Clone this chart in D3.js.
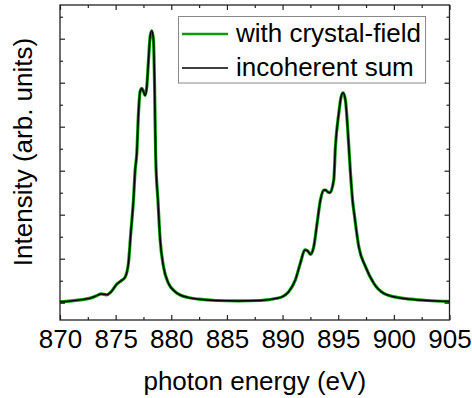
<!DOCTYPE html>
<html>
<head>
<meta charset="utf-8">
<script src="https://cdn.jsdelivr.net/npm/d3@7"></script>
<style>
  body { margin: 0; background: #fff; }
  text { font-family: "Liberation Sans", Arial, sans-serif; fill: #000; }
</style>
</head>
<body>
<div id="display"></div>
<script>
// photon energy (eV)
const energy = [870, 871, 872, 872.8, 873.3, 873.7, 874.2, 874.6, 875.1, 875.5, 875.85, 876.15, 876.36, 876.6, 876.75, 876.9,
    877.05, 877.2, 877.35, 877.5, 877.65, 877.8, 877.95, 878.1, 878.25, 878.4, 878.5, 878.6, 878.8, 879.0, 879.3, 879.75,
    880.35, 880.8, 881.5, 882.5, 884, 886, 888, 888.8, 889.5, 890.0, 890.55, 891.15, 891.6, 892.0, 892.25, 892.5, 892.8,
    893.1, 893.4, 893.7, 893.85, 894.05, 894.25, 894.6, 894.75, 895.05, 895.26, 895.44, 895.65, 895.86, 896.1, 896.3,
    896.45, 896.85, 897.45, 898.2, 899.1, 900.3, 901.5, 903, 905]

// intensity (arb. units), with crystal-field
const withCF = [0.02, 0.04, 0.07, 0.11, 0.16, 0.2, 0.18, 0.25, 0.42, 0.5, 0.58, 0.9, 1.58, 2.33, 3.0, 3.4,
    4.3, 4.8, 4.87, 4.8, 4.71, 4.91, 5.5, 6.05, 6.18, 5.97, 4.91, 3.3, 2.33, 1.43, 0.82, 0.44,
    0.25, 0.175, 0.12, 0.08, 0.05, 0.04, 0.05, 0.07, 0.1, 0.14, 0.25, 0.52, 0.9, 1.2, 1.18, 1.1, 1.27,
    1.8, 2.33, 2.56, 2.56, 2.52, 2.5, 2.79, 3.55, 4.3, 4.68, 4.77, 4.6, 3.92, 2.95, 2.3,
    2.0, 1.27, 0.82, 0.44, 0.21, 0.12, 0.08, 0.05, 0.03]

// intensity (arb. units), incoherent sum
const incoherent = [0.02, 0.04, 0.07, 0.11, 0.16, 0.2, 0.18, 0.25, 0.42, 0.5, 0.58, 0.9, 1.58, 2.33, 3.0, 3.4,
    4.3, 4.8, 4.87, 4.8, 4.71, 4.91, 5.5, 6.05, 6.18, 5.97, 4.91, 3.3, 2.33, 1.43, 0.82, 0.44,
    0.25, 0.175, 0.12, 0.08, 0.05, 0.04, 0.05, 0.07, 0.1, 0.14, 0.25, 0.52, 0.9, 1.2, 1.18, 1.1, 1.27,
    1.8, 2.33, 2.56, 2.56, 2.52, 2.5, 2.79, 3.55, 4.3, 4.68, 4.77, 4.6, 3.92, 2.95, 2.3,
    2.0, 1.27, 0.82, 0.44, 0.21, 0.12, 0.08, 0.05, 0.03]

const xTicks = [870, 875, 880, 885, 890, 895, 900, 905]
const xMinor = [872.5, 877.5, 882.5, 887.5, 892.5, 897.5, 902.5]
const yTicks = [0, 1, 2, 3, 4, 5, 6]
const yMinor = [-0.5, 0.5, 1.5, 2.5, 3.5, 4.5, 5.5, 6.5]
const legendLabels = ["with crystal-field", "incoherent sum"]
const legendColors = ["#0a9a0a", "#000"]

const width = 472, height = 398
const margin = {top: 5, right: 22.5, bottom: 78, left: 60}

const svg = d3.select('#display').append('svg')
    .attr('width', width)
    .attr('height', height)

const xScale = d3.scaleLinear()
    .domain([870, 905])
    .range([margin.left, width - margin.right])
const yScale = d3.scaleLinear()
    .domain([-0.393, 6.766])
    .range([height - margin.bottom, margin.top])

const x0 = margin.left, x1 = width - margin.right
const y0 = height - margin.bottom, y1 = margin.top

// curves
const line = d3.line()
    .x(d => xScale(d[0]))
    .y(d => yScale(d[1]))
    .curve(d3.curveMonotoneX)

svg.append('path')
    .datum(energy.map((e, i) => [e, withCF[i]]))
    .attr('d', line)
    .attr('fill', 'none')
    .attr('stroke', legendColors[0])
    .attr('stroke-width', 3.2)

svg.append('path')
    .datum(energy.map((e, i) => [e, incoherent[i]]))
    .attr('d', line)
    .attr('fill', 'none')
    .attr('stroke', legendColors[1])
    .attr('stroke-width', 1.5)

// axes, ticks pointing inward on all four sides
const axisColor = '#222'
function styleAxis(g) {
    g.select('.domain').remove()
    g.selectAll('.tick line').attr('stroke', axisColor).attr('stroke-width', 1.2)
}

svg.append('g')
    .attr('transform', `translate(0,${y0})`)
    .call(d3.axisBottom(xScale).tickValues(xTicks).tickSizeInner(-5).tickSizeOuter(0).tickFormat(d3.format('d')).tickPadding(10))
    .call(styleAxis)
    .call(g => g.selectAll('.tick text').attr('font-size', 26).attr('font-family', '"Liberation Sans", Arial, sans-serif').attr('fill', '#000'))

svg.append('g')
    .attr('transform', `translate(0,${y0})`)
    .call(d3.axisBottom(xScale).tickValues(xMinor).tickSize(-3).tickFormat(''))
    .call(styleAxis)

svg.append('g')
    .attr('transform', `translate(0,${y1})`)
    .call(d3.axisTop(xScale).tickValues(xTicks).tickSize(-5).tickFormat(''))
    .call(styleAxis)
svg.append('g')
    .attr('transform', `translate(0,${y1})`)
    .call(d3.axisTop(xScale).tickValues(xMinor).tickSize(-3).tickFormat(''))
    .call(styleAxis)

svg.append('g')
    .attr('transform', `translate(${x0},0)`)
    .call(d3.axisLeft(yScale).tickValues(yTicks).tickSize(-5).tickFormat(''))
    .call(styleAxis)
svg.append('g')
    .attr('transform', `translate(${x0},0)`)
    .call(d3.axisLeft(yScale).tickValues(yMinor.filter(v => v > -0.393)).tickSize(-3).tickFormat(''))
    .call(styleAxis)
svg.append('g')
    .attr('transform', `translate(${x1},0)`)
    .call(d3.axisRight(yScale).tickValues(yTicks).tickSize(-5).tickFormat(''))
    .call(styleAxis)
svg.append('g')
    .attr('transform', `translate(${x1},0)`)
    .call(d3.axisRight(yScale).tickValues(yMinor.filter(v => v > -0.393)).tickSize(-3).tickFormat(''))
    .call(styleAxis)

// frame
svg.append('rect')
    .attr('x', x0)
    .attr('y', y1)
    .attr('width', x1 - x0)
    .attr('height', y0 - y1)
    .attr('fill', 'none')
    .attr('stroke', axisColor)
    .attr('stroke-width', 1.3)

// axis titles
svg.append('text')
    .attr('x', (x0 + x1) / 2)
    .attr('y', 390)
    .attr('text-anchor', 'middle')
    .style('font-size', '26px')
    .text('photon energy (eV)')

svg.append('text')
    .attr('transform', 'translate(32,152) rotate(-90)')
    .attr('text-anchor', 'middle')
    .style('font-size', '26px')
    .text('Intensity (arb. units)')

// legend
const legend = svg.append('g')
legend.append('rect')
    .attr('x', 178.5)
    .attr('y', 16.5)
    .attr('width', 247)
    .attr('height', 66.5)
    .attr('fill', '#fff')
    .attr('stroke', '#888')
    .attr('stroke-width', 1)

legendLabels.forEach((label, i) => {
    const ly = 34 + i * 34
    legend.append('line')
        .attr('x1', 182)
        .attr('x2', 228)
        .attr('y1', ly)
        .attr('y2', ly)
        .attr('stroke', legendColors[i])
        .attr('stroke-width', i == 0 ? 2.6 : 1.4)
    legend.append('text')
        .attr('x', 236)
        .attr('y', ly + 7.5)
        .style('font-size', '26px')
        .text(label)
})
</script>
</body>
</html>
